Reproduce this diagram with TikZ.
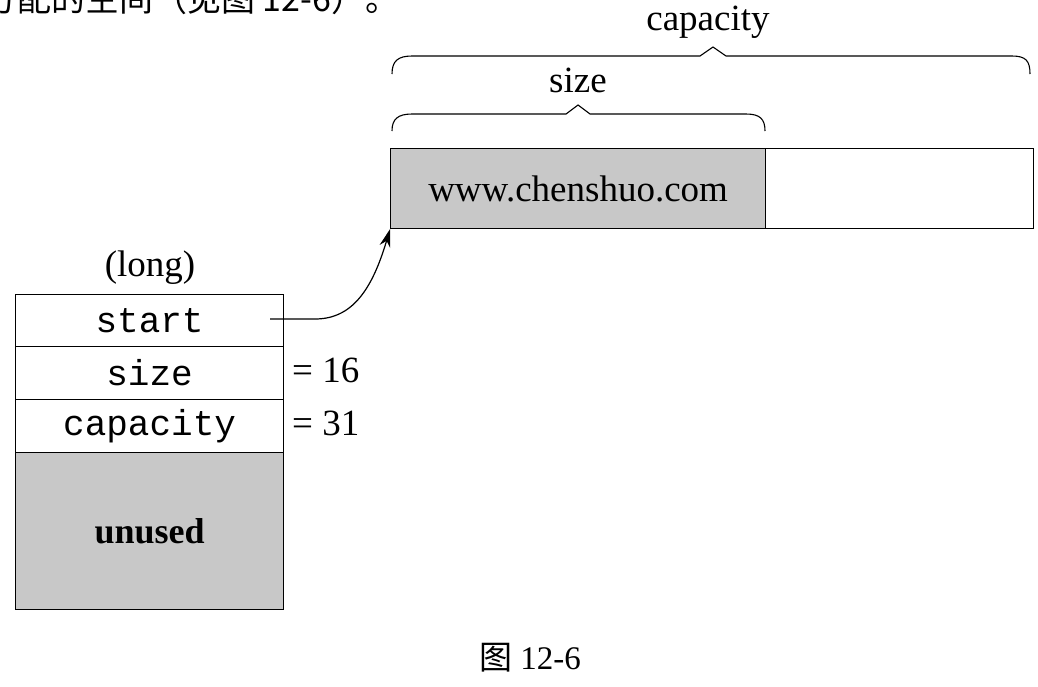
\documentclass[tikz,border=0pt]{standalone}
\usepackage{fontspec}
\setmainfont{Liberation Serif}
\setmonofont{Liberation Mono}
\newfontfamily\cjk{Noto Sans CJK SC}
\usetikzlibrary{arrows.meta}
\definecolor{shade}{RGB}{200,200,200}
\tikzset{
  cell/.style={draw, line width=1.2pt, minimum width=268pt, inner sep=0pt, font=\fontsize{36}{40}\ttfamily},
  lbl/.style={inner sep=0pt, font=\fontsize{37}{42}\selectfont},
  brc/.style={line width=1.1pt},
}
\begin{document}
\begin{tikzpicture}[x=1pt,y=-1pt]
\useasboundingbox (0,0) rectangle (1038,686);
% partial page text at top
\node[anchor=base west, inner sep=0pt, font=\fontsize{34}{36}\cjk] (pagetext) at (-17,11) {分配的空间（见图 12-6）。};
% top buffer
\node[cell, fill=shade, minimum width=375pt, minimum height=80pt, anchor=north west, font=\fontsize{37}{42}\selectfont] (used) at (390,148) {www.chenshuo.com};
\node[cell, minimum width=268pt, minimum height=80pt, anchor=north west] (free) at (765,148) {};
% braces
\draw[brc] (392,74) .. controls (392,61) and (398,56) .. (412,56) -- (700,56) -- (713,47) -- (726,56) -- (1012,56) .. controls (1026,56) and (1030,61) .. (1030,74);
\node[lbl] (captxt) at (708,22) {capacity};
\draw[brc] (392,131) .. controls (392,119) and (398,114) .. (412,114) -- (566,114) -- (578,105) -- (590,114) -- (746,114) .. controls (760,114) and (765,119) .. (765,131);
\node[lbl] (sizetxt) at (578,80) {size};
% left struct
\node[lbl] (long) at (150,268) {(long)};
\node[cell, minimum height=52pt, anchor=north west] (start) at (15,294) {start};
\node[cell, minimum height=53pt, anchor=north west] (size) at (15,346) {size};
\node[cell, minimum height=53pt, anchor=north west] (cap) at (15,399) {capacity};
\node[cell, fill=shade, minimum height=157pt, anchor=north west, font=\fontsize{36}{40}\bfseries] (unused) at (15,452) {unused};
\node[lbl, anchor=west] (v16) at (292,370) {= 16};
\node[lbl, anchor=west] (v31) at (292,423) {= 31};
% pointer
\coordinate (p0) at (270,319);
\draw[line width=1.2pt, -{Stealth[length=18pt,width=11pt]}] (p0) -- (315,319) .. controls (352,319) and (372,290) .. (used.south west);
% caption
\node[inner sep=0pt, font=\fontsize{33}{38}\selectfont] (caption) at (530,658) {{\cjk 图} 12-6};
\end{tikzpicture}
\end{document}
